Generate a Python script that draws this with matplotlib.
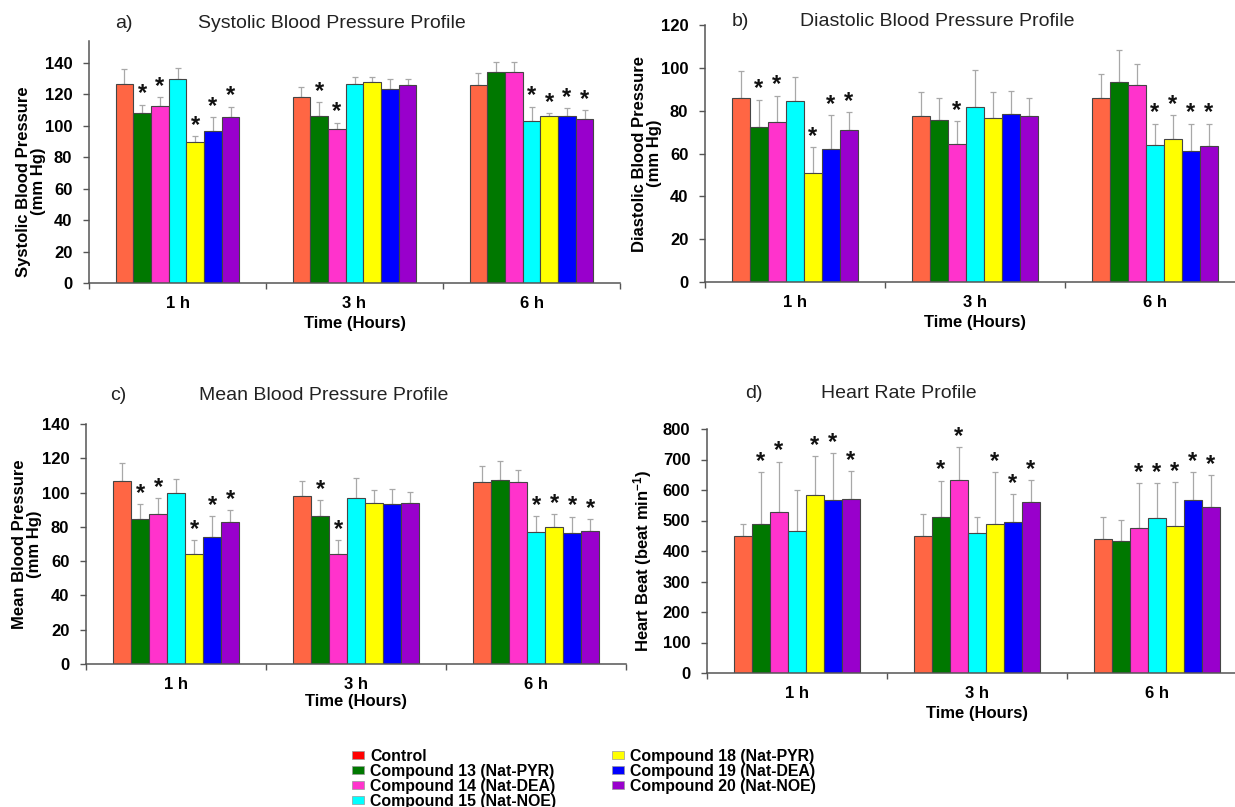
import matplotlib
matplotlib.use("Agg")
import matplotlib.pyplot as plt
import numpy as np
from matplotlib.patches import Patch

plt.rcParams["font.family"] = ["Liberation Sans", "DejaVu Sans"]
plt.rcParams["mathtext.fontset"] = "custom"
plt.rcParams["mathtext.rm"] = "Liberation Sans:bold"
plt.rcParams["mathtext.bf"] = "Liberation Sans:bold"
plt.rcParams["mathtext.default"] = "bf"

times = ["1 h", "3 h", "6 h"]
groups = ["Control", "Compound 13 (Nat-PYR)", "Compound 14 (Nat-DEA)",
          "Compound 15 (Nat-NOE)", "Compound 18 (Nat-PYR)",
          "Compound 19 (Nat-DEA)", "Compound 20 (Nat-NOE)"]
bar_colors = ["#FF6644", "#007800", "#FF33CC", "#00FFFF", "#FFFF00",
              "#0000FF", "#9900CC"]
legend_colors = ["#FF0000", "#007800", "#FF33CC", "#00FFFF", "#FFFF00",
                 "#0000FF", "#9900CC"]

# rows = time points, columns = groups
systolic = [[126.4, 108.0, 112.8, 129.8, 90.0, 97.0, 105.7],
            [118.3, 106.2, 98.1, 126.8, 128.1, 123.4, 126.2],
            [126.2, 134.3, 134.3, 103.4, 106.4, 106.2, 104.5]]
systolic_err = [[10.0, 5.5, 5.7, 6.8, 3.6, 8.7, 6.6],
                [6.2, 8.7, 4.0, 4.0, 3.0, 6.4, 3.6],
                [7.7, 6.4, 6.4, 8.9, 1.7, 5.1, 5.7]]
systolic_sig = [[0, 1, 1, 0, 1, 1, 1],
                [0, 1, 1, 0, 0, 0, 0],
                [0, 0, 0, 1, 1, 1, 1]]

diastolic = [[85.7, 72.6, 74.5, 84.6, 51.0, 62.0, 71.0],
             [77.6, 75.7, 64.4, 81.5, 76.8, 78.4, 77.3],
             [85.7, 93.5, 91.9, 64.0, 66.9, 61.4, 63.7]]
diastolic_err = [[12.8, 12.6, 12.5, 11.2, 12.1, 15.9, 8.4],
                 [11.2, 10.3, 10.9, 17.3, 12.0, 10.7, 8.7],
                 [11.4, 14.7, 9.7, 10.0, 11.0, 12.6, 10.3]]
diastolic_sig = [[0, 1, 1, 0, 1, 1, 1],
                 [0, 0, 1, 0, 0, 0, 0],
                 [0, 0, 0, 1, 1, 1, 1]]

mean_bp = [[106.5, 84.5, 87.6, 99.9, 64.3, 73.8, 82.9],
           [97.9, 86.1, 64.4, 96.6, 93.8, 93.5, 93.7],
           [105.9, 107.1, 106.3, 77.1, 80.0, 76.3, 77.3]]
mean_bp_err = [[10.7, 9.0, 9.4, 8.0, 8.0, 12.7, 6.8],
               [8.8, 9.3, 7.8, 11.7, 7.6, 8.5, 6.8],
               [9.4, 11.1, 6.8, 9.3, 7.4, 9.7, 7.4]]
mean_bp_sig = [[0, 1, 1, 0, 1, 1, 1],
               [0, 1, 1, 0, 0, 0, 0],
               [0, 0, 0, 1, 1, 1, 1]]

heart = [[450, 488, 529, 464, 585, 568, 569],
         [449, 511, 633, 458, 488, 494, 561],
         [439, 434, 475, 507, 481, 567, 545]]
heart_err = [[39, 170, 164, 136, 125, 152, 94],
             [72, 120, 108, 53, 170, 93, 71],
             [74, 69, 147, 115, 146, 92, 105]]
heart_sig = [[0, 1, 1, 0, 1, 1, 1],
             [0, 1, 1, 0, 1, 1, 1],
             [0, 0, 1, 1, 1, 1, 1]]

W, H = 1235, 807
fig = plt.figure(figsize=(W / 100, H / 100), dpi=100)


def px_axes(left, top, width, bottom):
    return fig.add_axes([left / W, 1 - bottom / H, width / W, (bottom - top) / H])


def draw_panel(ax, vals, errs, sig, ylim, yticks, ylabel, ylabelpad, xlabelpad,
               ylabel_y=0.5):
    vals = np.array(vals)
    errs = np.array(errs)
    x = np.arange(len(times))
    w = 0.1
    for j in range(len(groups)):
        xs = x + (j - 3) * w
        ax.errorbar(xs, vals[:, j], yerr=[np.zeros(3), errs[:, j]], fmt="none",
                    ecolor="#a8a8a8", elinewidth=0.9, capsize=2, capthick=0.9,
                    zorder=1)
        ax.bar(xs, vals[:, j], width=w, color=bar_colors[j],
               edgecolor="#454545", linewidth=0.8, zorder=2)
        for i in range(len(times)):
            if sig[i][j]:
                ax.annotate("*", (xs[i], vals[i, j] + errs[i, j]),
                            xytext=(0, 3), textcoords="offset points",
                            ha="center", va="baseline", fontsize=17,
                            fontweight="bold", color="#111111")
    ax.set_xlim(-0.5, 2.5)
    ax.set_ylim(*ylim)
    ax.set_yticks(yticks)
    ax.set_xticks([-0.5, 0.5, 1.5, 2.5])
    ax.set_xticklabels([])
    ax.set_xticks(x, minor=True)
    ax.set_xticklabels(times, minor=True, fontweight="bold", fontsize=12)
    ax.tick_params(axis="x", which="minor", length=0, pad=9.2)
    ax.tick_params(axis="x", which="major", length=4, width=1, color="#555555",
                   direction="out")
    ax.tick_params(axis="y", length=4, width=1, color="#555555", labelsize=12,
                   pad=8)
    for lab in ax.get_yticklabels():
        lab.set_fontweight("bold")
    for s in ["top", "right"]:
        ax.spines[s].set_visible(False)
    for s in ["left", "bottom"]:
        ax.spines[s].set_color("#555555")
        ax.spines[s].set_linewidth(1.1)
    ax.set_ylabel(ylabel, fontweight="bold", fontsize=12, labelpad=ylabelpad,
                  linespacing=1.0)
    ax.yaxis.label.set_y(ylabel_y)
    ax.set_xlabel("Time (Hours)", fontweight="bold", fontsize=12,
                  labelpad=xlabelpad)


ax_a = px_axes(89, 41, 531, 283)
draw_panel(ax_a, systolic, systolic_err, systolic_sig, (0, 154),
           np.arange(0, 141, 20), "Systolic Blood Pressure\n(mm Hg)", -1, 3.7,
           ylabel_y=0.42)
ax_b = px_axes(705, 25, 540, 282)
draw_panel(ax_b, diastolic, diastolic_err, diastolic_sig, (0, 120),
           np.arange(0, 121, 20), "Diastolic Blood Pressure\n(mm Hg)", -1, 3.7)
ax_c = px_axes(86, 424, 540, 664)
draw_panel(ax_c, mean_bp, mean_bp_err, mean_bp_sig, (0, 140),
           np.arange(0, 141, 20), "Mean Blood Pressure\n(mm Hg)", 0, 1.5)
ax_d = px_axes(707, 429, 540, 673)
draw_panel(ax_d, heart, heart_err, heart_sig, (0, 800),
           np.arange(0, 801, 100), r"Heart Beat (beat min$^{-1}$)", 6, 3.7,
           ylabel_y=0.46)

titles = [("a)", 115, 23, "Systolic Blood Pressure Profile", 332),
          ("b)", 732, 22, "Diastolic Blood Pressure Profile", 937),
          ("c)", 110, 395, "Mean Blood Pressure Profile", 324),
          ("d)", 745, 393, "Heart Rate Profile", 899)]
for tag, tx, ty, title, cx in titles:
    fig.text(tx / W, 1 - ty / H, tag, ha="left", va="center", fontsize=14,
             color="#222222")
    fig.text(cx / W, 1 - ty / H, title, ha="center", va="center", fontsize=14,
             color="#222222")

handles = [Patch(facecolor=c, edgecolor="#999999", linewidth=0.5)
           for c in legend_colors]
fig.legend(handles, groups, loc="upper left", bbox_to_anchor=(344 / W, 1 - 741 / H),
           ncol=2, frameon=False, borderpad=0, labelspacing=0.0,
           handlelength=0.75, handleheight=0.4, handletextpad=0.4,
           columnspacing=3.5, prop={"weight": "bold", "size": 11.4})

fig.savefig("out.png", dpi=100)
